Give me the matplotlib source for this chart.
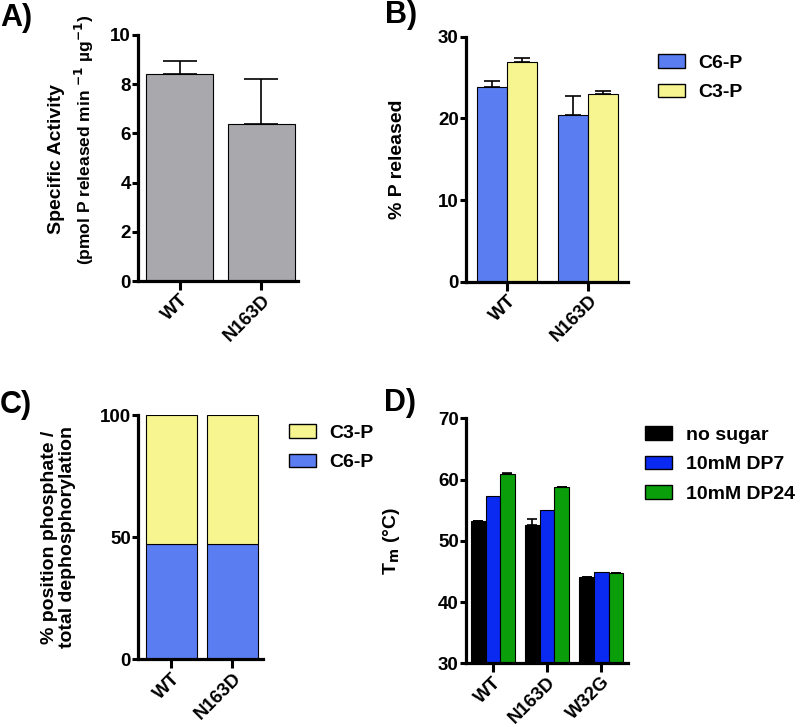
import numpy as np
import matplotlib
matplotlib.use("Agg")
import matplotlib.pyplot as plt
from matplotlib.patches import Patch

plt.rcParams['font.family'] = ['Liberation Sans', 'DejaVu Sans']
plt.rcParams['font.weight'] = 'bold'
plt.rcParams['axes.labelweight'] = 'bold'
plt.rcParams['mathtext.default'] = 'bf'

# A) specific activity
a_labels = ['WT', 'N163D']
a_vals = [8.4, 6.4]
a_err = [0.55, 1.8]

# B) % P released
b_labels = ['WT', 'N163D']
b_c6 = [23.9, 20.4]
b_c6_err = [0.7, 2.4]
b_c3 = [26.9, 22.95]
b_c3_err = [0.5, 0.45]

# C) stacked fractions
c_labels = ['WT', 'N163D']
c_c6 = [47.0, 47.0]
c_c3 = [53.0, 53.0]

# D) melting temperature
d_labels = ['WT', 'N163D', 'W32G']
d_none = [53.2, 52.6, 44.1]
d_none_err = [0, 1.0, 0]
d_dp7 = [57.3, 55.0, 44.9]
d_dp24 = [60.9, 58.8, 44.7]
d_dp24_err = [0.25, 0, 0]

gray = '#A9A9AD'
c6_col = '#5A7DF2'
c3_col = '#F7F590'
k_col = '#000000'
dp7_col = '#0A2AF2'
dp24_col = '#0A9E0A'

W, H = 800, 727
fig = plt.figure(figsize=(W / 100, H / 100), dpi=100)
FS_TICK = 13.5
FS_LAB = 14
FS_LEG = 14
FS_PANEL = 22


def make_ax(x0, x1, ytop, ybot):
    ax = fig.add_axes([x0 / W, (H - ybot) / H, (x1 - x0) / W, (ybot - ytop) / H])
    for s in ['top', 'right']:
        ax.spines[s].set_visible(False)
    for s in ['left', 'bottom']:
        ax.spines[s].set_linewidth(2.3)
    ax.tick_params(axis='y', width=2.2, length=4.5, labelsize=FS_TICK, pad=0.5)
    ax.tick_params(axis='x', width=2.2, length=6.5, labelsize=FS_TICK, pad=1)
    return ax


def style_ticks(ax, labels):
    ax.set_xticks(np.arange(len(labels)))
    ax.set_xticklabels(labels, rotation=45, ha='right', rotation_mode='anchor',
                       fontweight='bold', fontsize=FS_TICK)
    for t in ax.get_yticklabels():
        t.set_fontweight('bold')


def add_legend(ax, handles, px, py):
    # px, py: top-left of the legend in figure pixels
    ax.legend(handles=handles, loc='upper left', bbox_to_anchor=(px / W, 1 - py / H),
              bbox_transform=fig.transFigure, frameon=False, borderpad=0,
              borderaxespad=0, prop={'weight': 'bold', 'size': FS_LEG},
              handlelength=1.39, handleheight=0.7, labelspacing=0.62,
              handletextpad=0.7)


def panel(px, py, s):
    fig.text(px / W, 1 - py / H, s, fontsize=FS_PANEL, fontweight='bold', va='top')


def vlabel(px, py, s, size):
    fig.text(px / W, 1 - py / H, s, fontsize=size, fontweight='bold',
             rotation=90, ha='center', va='center')


ekw = dict(elinewidth=1.2, capthick=1.2, ecolor='black')

# ---- A
ax = make_ax(138, 298, 35, 281)
x = np.arange(len(a_labels))
ax.bar(x, a_vals, 0.82, color=gray, edgecolor='black', linewidth=0.8,
       yerr=[np.zeros(2), a_err], capsize=12, error_kw=ekw)
ax.set_xlim(-0.51, 1.45)
ax.set_ylim(0, 10)
ax.set_yticks([0, 2, 4, 6, 8, 10])
style_ticks(ax, a_labels)
vlabel(57, 159, 'Specific Activity', FS_LAB)
vlabel(84, 140, '(pmol P released min $^{-1}$ µg$^{-1}$)', 12.5)
panel(0, 3, 'A)')

# ---- B
ax = make_ax(465.7, 628, 36.7, 281.7)
x = np.arange(len(b_labels))
bw = 0.37
ax.bar(x - bw / 2, b_c6, bw, color=c6_col, edgecolor='black', linewidth=0.8,
       yerr=[np.zeros(2), b_c6_err], capsize=6, error_kw=ekw)
ax.bar(x + bw / 2, b_c3, bw, color=c3_col, edgecolor='black', linewidth=0.8,
       yerr=[np.zeros(2), b_c3_err], capsize=6, error_kw=ekw)
ax.set_xlim(-0.51, 1.49)
ax.set_ylim(0, 30)
ax.set_yticks([0, 10, 20, 30])
style_ticks(ax, b_labels)
ax.set_ylabel('% P released', fontsize=FS_LAB, fontweight='bold')
ax.yaxis.set_label_coords((406 - 465.7) / 162.3, 0.5)
add_legend(ax, [Patch(facecolor=c6_col, edgecolor='black', label='C6-P'),
                Patch(facecolor=c3_col, edgecolor='black', label='C3-P')], 657.7, 54)
panel(385, 0, 'B)')

# ---- C
ax = make_ax(137.7, 263, 415, 659.3)
x = np.arange(len(c_labels))
ax.bar(x, c_c6, 0.836, color=c6_col, edgecolor='black', linewidth=0.8)
ax.bar(x, c_c3, 0.836, bottom=c_c6, color=c3_col, edgecolor='black', linewidth=0.8)
ax.set_xlim(-0.55, 1.5)
ax.set_ylim(0, 100)
ax.set_yticks([0, 50, 100])
style_ticks(ax, c_labels)
ax.set_ylabel('% position phosphate /\ntotal dephosphorylation',
              fontsize=FS_LAB, fontweight='bold', linespacing=1.05)
ax.yaxis.set_label_coords((76 - 137.7) / 125.3, 0.5)
add_legend(ax, [Patch(facecolor=c3_col, edgecolor='black', label='C3-P'),
                Patch(facecolor=c6_col, edgecolor='black', label='C6-P')], 289, 424)
panel(0, 390, 'C)')

# ---- D
ax = make_ax(465.7, 628, 418.3, 663.3)
x = np.arange(len(d_labels))
bw = 0.27
ax.bar(x - bw, d_none, bw, color=k_col, edgecolor='black', linewidth=0.8,
       yerr=[np.zeros(3), d_none_err], capsize=3.5, error_kw=ekw)
ax.bar(x, d_dp7, bw, color=dp7_col, edgecolor='black', linewidth=0.8)
ax.bar(x + bw, d_dp24, bw, color=dp24_col, edgecolor='black', linewidth=0.8,
       yerr=[np.zeros(3), d_dp24_err], capsize=3.5, error_kw=ekw)
ax.set_xlim(-0.5, 2.49)
ax.set_ylim(30, 70)
ax.set_yticks([30, 40, 50, 60, 70])
style_ticks(ax, d_labels)
ax.set_ylabel('T$_{m}$ (°C)', fontsize=FS_LAB, fontweight='bold')
ax.yaxis.set_label_coords((402 - 465.7) / 162.3, 0.5)
add_legend(ax, [Patch(facecolor=k_col, edgecolor='black', label='no sugar'),
                Patch(facecolor=dp7_col, edgecolor='black', label='10mM DP7'),
                Patch(facecolor=dp24_col, edgecolor='black', label='10mM DP24')], 645, 426)
panel(384, 388, 'D)')

fig.savefig('out.png', dpi=100)
